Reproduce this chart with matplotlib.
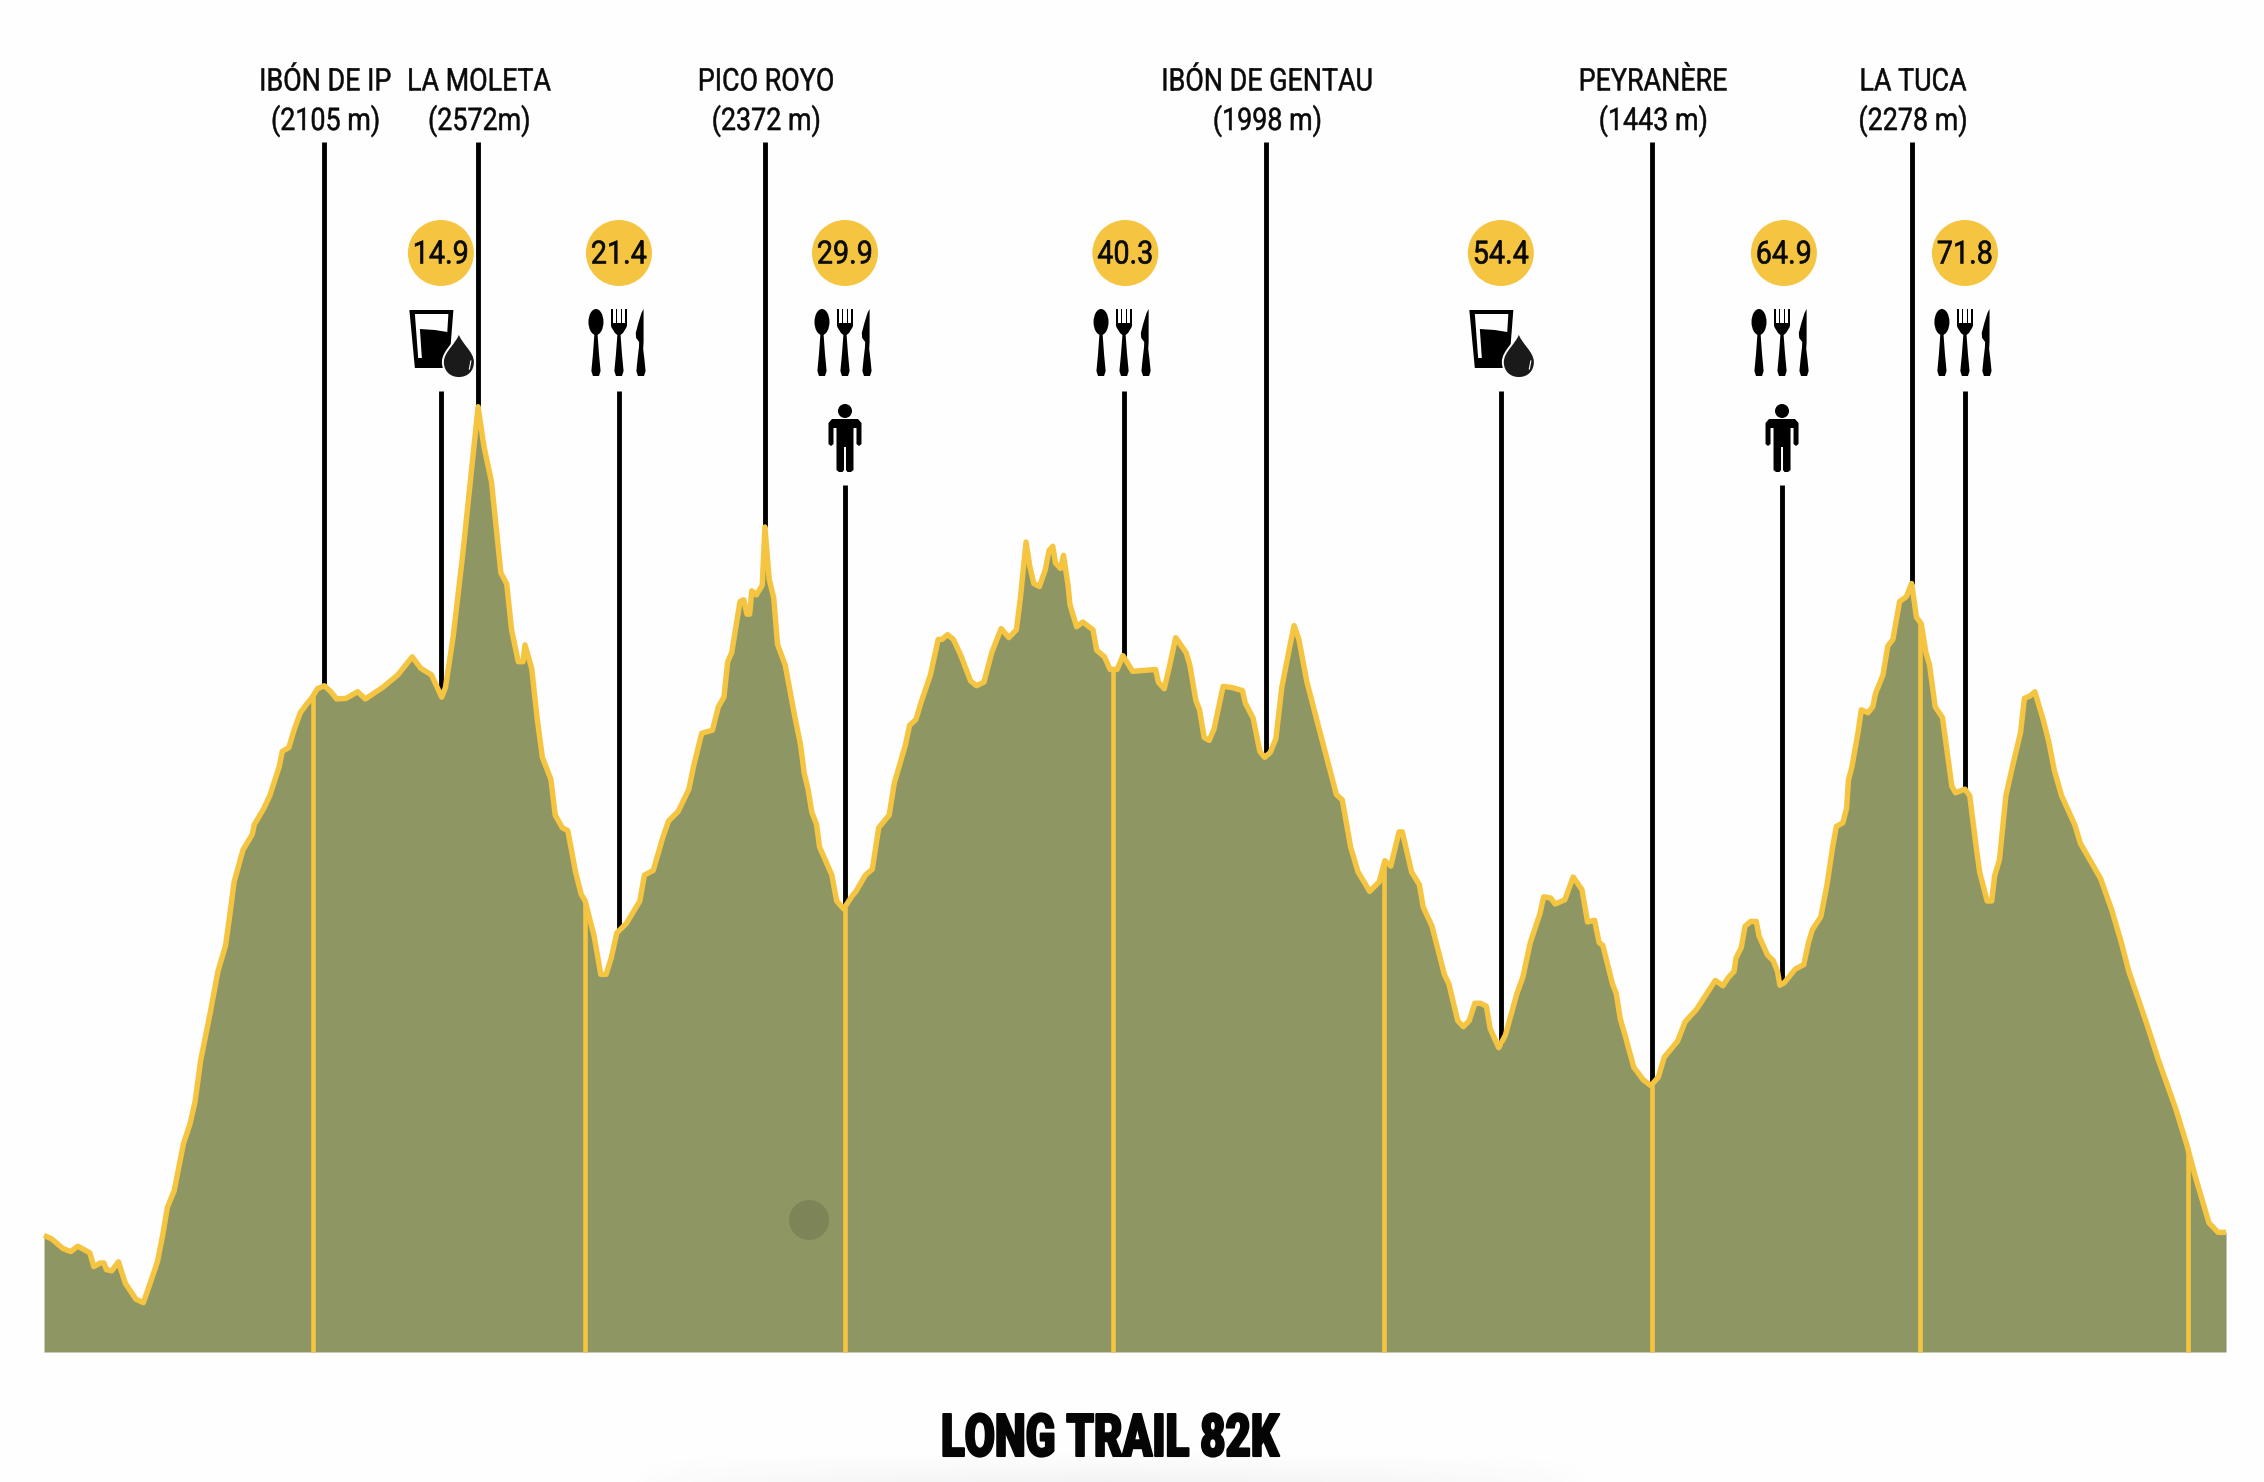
import numpy as np
import matplotlib
matplotlib.use("Agg")
import matplotlib.pyplot as plt
from matplotlib.patches import Circle, Ellipse, Polygon, PathPatch
from matplotlib.path import Path
from matplotlib.patheffects import AbstractPathEffect
from matplotlib.transforms import Affine2D, blended_transform_factory

W, H = 2264, 1482

distance_km = [
    0.00, 0.29, 0.50, 0.71, 1.00, 1.26, 1.71, 1.86, 2.10, 2.24, 2.33, 2.53, 2.78, 3.04, 3.43, 3.71,
    4.00, 4.24, 4.43, 4.61, 4.86, 5.21, 5.45, 5.64, 5.85, 6.21, 6.50, 6.78, 6.93, 7.10, 7.43, 7.78,
    7.85, 8.21, 8.43, 8.78, 8.90, 9.14, 9.35, 9.57, 9.78, 9.99, 10.21, 10.47, 10.71, 10.93, 11.28, 11.71,
    12.00, 12.64, 13.21, 13.75, 14.07, 14.47, 14.85, 14.99, 15.28, 15.64, 15.90, 16.21, 16.42, 16.71, 17.06, 17.28,
    17.46, 17.71, 17.89, 17.96, 18.21, 18.42, 18.61, 18.93, 19.09, 19.35, 19.56, 19.85, 20.06, 20.21, 20.54, 20.79,
    20.99, 21.18, 21.39, 21.75, 22.25, 22.42, 22.75, 23.11, 23.32, 23.68, 24.08, 24.25, 24.56, 24.96, 25.18, 25.39,
    25.53, 25.68, 25.99, 26.13, 26.25, 26.35, 26.43, 26.60, 26.82, 26.92, 27.08, 27.25, 27.39, 27.68, 28.03, 28.25,
    28.39, 28.53, 28.67, 28.85, 28.96, 29.42, 29.60, 29.86, 30.17, 30.32, 30.67, 30.93, 31.17, 31.56, 31.75, 32.17,
    32.32, 32.56, 32.74, 33.10, 33.39, 33.53, 33.74, 33.96, 34.24, 34.60, 34.82, 35.10, 35.39, 35.74, 36.03, 36.31,
    36.46, 36.67, 36.81, 36.96, 37.17, 37.39, 37.53, 37.67, 37.77, 37.96, 38.07, 38.24, 38.31, 38.56, 38.79, 39.17,
    39.31, 39.60, 39.81, 40.07, 40.29, 40.65, 41.51, 41.61, 41.83, 42.01, 42.26, 42.65, 42.79, 43.01, 43.15, 43.32,
    43.51, 43.69, 44.03, 44.36, 44.75, 44.86, 45.15, 45.40, 45.58, 45.79, 46.00, 46.22, 46.50, 46.68, 46.86, 47.15,
    47.58, 48.08, 48.26, 48.48, 48.79, 49.07, 49.29, 49.50, 49.86, 50.07, 50.29, 50.60, 50.72, 51.07, 51.36, 51.50,
    51.83, 52.29, 52.46, 52.79, 53.00, 53.22, 53.43, 53.64, 53.86, 54.00, 54.32, 54.57, 55.00, 55.22, 55.50, 55.86,
    56.00, 56.26, 56.43, 56.79, 57.10, 57.43, 57.64, 57.90, 58.07, 58.21, 58.57, 58.71, 58.86, 59.07, 59.36, 59.71,
    60.00, 60.28, 60.50, 61.00, 61.28, 61.71, 62.41, 62.69, 62.90, 63.11, 63.18, 63.38, 63.52, 63.73, 63.94, 64.04,
    64.36, 64.57, 64.73, 64.82, 64.98, 65.40, 65.71, 65.89, 66.03, 66.35, 66.58, 66.79, 66.93, 67.17, 67.31, 67.38,
    67.51, 67.74, 67.86, 68.11, 68.29, 68.39, 68.67, 68.85, 69.04, 69.29, 69.54, 69.74, 69.92, 70.10, 70.27, 70.41,
    70.62, 70.89, 71.03, 71.24, 71.38, 71.73, 71.91, 72.15, 72.28, 72.56, 72.73, 72.84, 73.02, 73.26, 73.47, 73.81,
    73.95, 74.16, 74.34, 74.65, 74.86, 75.07, 75.34, 75.83, 76.04, 76.80, 77.22, 77.57, 77.85, 78.54, 78.96, 79.59,
    80.00, 80.35, 80.84, 81.18, 81.48,
]
elevation_m = [
    1194, 1188, 1180, 1172, 1167, 1176, 1165, 1142, 1148, 1148, 1137, 1135, 1150, 1114, 1088, 1082,
    1119, 1151, 1194, 1241, 1268, 1347, 1379, 1416, 1485, 1565, 1634, 1676, 1724, 1782, 1835, 1861,
    1877, 1904, 1925, 1973, 1999, 2005, 2036, 2063, 2076, 2087, 2103, 2108, 2098, 2086, 2087, 2098,
    2086, 2105, 2126, 2156, 2137, 2126, 2089, 2105, 2190, 2328, 2439, 2572, 2508, 2447, 2296, 2277,
    2201, 2148, 2148, 2176, 2137, 2052, 1989, 1952, 1893, 1872, 1867, 1798, 1761, 1750, 1692, 1628,
    1628, 1655, 1697, 1713, 1750, 1793, 1801, 1856, 1883, 1899, 1936, 1973, 2029, 2034, 2073, 2089,
    2148, 2163, 2248, 2251, 2227, 2227, 2266, 2259, 2275, 2372, 2285, 2254, 2177, 2142, 2058, 2010,
    1962, 1936, 1898, 1877, 1840, 1793, 1750, 1737, 1758, 1766, 1793, 1803, 1872, 1893, 1946, 2010,
    2042, 2052, 2079, 2126, 2185, 2185, 2193, 2185, 2158, 2116, 2108, 2114, 2163, 2203, 2188, 2201,
    2254, 2347, 2307, 2278, 2273, 2301, 2333, 2340, 2312, 2303, 2325, 2275, 2243, 2206, 2214, 2201,
    2167, 2156, 2135, 2135, 2158, 2132, 2135, 2114, 2103, 2137, 2188, 2163, 2142, 2084, 2068, 2022,
    2017, 2036, 2107, 2105, 2100, 2079, 2054, 1999, 1989, 1997, 2020, 2105, 2169, 2208, 2185, 2116,
    2042, 1957, 1927, 1918, 1840, 1798, 1782, 1766, 1782, 1817, 1808, 1865, 1865, 1798, 1777, 1740,
    1708, 1628, 1612, 1551, 1541, 1551, 1580, 1580, 1575, 1538, 1506, 1527, 1596, 1623, 1681, 1729,
    1757, 1755, 1745, 1752, 1790, 1769, 1715, 1718, 1681, 1676, 1612, 1596, 1554, 1522, 1474, 1453,
    1443, 1457, 1490, 1517, 1549, 1570, 1618, 1609, 1623, 1633, 1655, 1673, 1708, 1716, 1716, 1692,
    1660, 1651, 1633, 1610, 1614, 1637, 1644, 1681, 1702, 1724, 1777, 1840, 1874, 1880, 1904, 1951,
    1973, 2031, 2068, 2063, 2073, 2095, 2126, 2174, 2185, 2248, 2256, 2278, 2222, 2211, 2164, 2142,
    2073, 2055, 2010, 1941, 1930, 1936, 1925, 1840, 1798, 1750, 1750, 1792, 1819, 1925, 1967, 2031,
    2087, 2091, 2098, 2052, 2015, 1967, 1925, 1877, 1846, 1787, 1734, 1681, 1633, 1543, 1485, 1406,
    1347, 1289, 1215, 1199, 1199,
]

peak_names = ["IBÓN DE IP", "LA MOLETA", "PICO ROYO", "IBÓN DE GENTAU", "PEYRANÈRE", "LA TUCA"]
peak_heights = ["(2105 m)", "(2572m)", "(2372 m)", "(1998 m)", "(1443 m)", "(2278 m)"]
peak_km = [10.46, 16.20, 26.92, 45.63, 60.04, 69.74]

station_labels = ["14.9", "21.4", "29.9", "40.3", "54.4", "64.9", "71.8"]
station_km = [14.82, 21.47, 29.91, 40.33, 54.40, 64.90, 71.73]
badge_km = [14.82, 21.47, 29.91, 40.38, 54.40, 64.97, 71.73]
station_icons = ["water", "food", "food+bag", "food", "water", "food+bag", "food"]

marker_km = [10.05, 20.20, 29.90, 39.90, 50.03, 60.03, 70.05, 80.05]

title = "LONG TRAIL 82K"

GREEN = "#8e9763"
YELLOW = "#f5c542"


class HScale(AbstractPathEffect):
    """Squeeze text horizontally about cx (display px), optional heavier stroke."""
    def __init__(self, cx, sx, stroke=0.0):
        super().__init__()
        self.cx, self.sx, self.stroke = cx, sx, stroke

    def draw_path(self, renderer, gc, tpath, affine, rgbFace=None):
        aff = affine + Affine2D().translate(-self.cx, 0).scale(self.sx, 1).translate(self.cx, 0)
        gc0 = renderer.new_gc()
        gc0.copy_properties(gc)
        gc0.set_linewidth(self.stroke)
        gc0.set_foreground(rgbFace)
        renderer.draw_path(gc0, tpath, aff, rgbFace)
        gc0.restore()


fig = plt.figure(figsize=(W / 100, H / 100), dpi=100, facecolor="#fefefe")
ax = fig.add_axes([0, 0, 1, 1])
PX_KM = 26.78
M_PX = 1.663
XLIM = (-44 / PX_KM, (W - 44) / PX_KM)
YLIM = (1000 - (H - 1352) * M_PX, 1000 + 1352 * M_PX)
ax.set_xlim(XLIM)
ax.set_ylim(YLIM)
ax.axis("off")

T = Affine2D().scale(1, -1).translate(0, H)         # y-down pixel coordinates
XKM = blended_transform_factory(ax.transData, T)    # x in km, y in pixels


def kpx(km):
    return ax.transData.transform((km, 0))[0]


d = np.array(distance_km)
e = np.array(elevation_m)

# faint shadow at the bottom edge
yy, xx = np.mgrid[0:60, 0:W]
alpha = np.clip((yy - 25) / 35.0, 0, 1) ** 1.5 * np.clip(1 - np.abs(xx - 1110) / 480.0, 0, 1) ** 0.6 * 0.07
rgba = np.zeros((60, W, 4))
rgba[..., 0] = 0.35
rgba[..., 1] = 0.3
rgba[..., 2] = 0.4
rgba[..., 3] = alpha
ax.imshow(rgba, extent=(0, W, H, H - 60), transform=T, aspect="auto", zorder=0, interpolation="bilinear")
ax.set_xlim(XLIM)
ax.set_ylim(YLIM)

# profile
ax.fill_between(d, 1000, e, color=GREEN, lw=0, zorder=2)
ax.plot(d, e, color=YELLOW, lw=3.9, solid_joinstyle="round", solid_capstyle="butt", zorder=5)
ax.vlines(marker_km, 1000, np.interp(marker_km, d, e), color=YELLOW, lw=3.3, zorder=4)

# blob on the fill
ax.add_patch(Circle((809, 1220), 20, transform=T, fc="#7d8558", ec="none", zorder=3))


def label(km_x, y, s, size, sx=0.84, stroke=0.0, weight="normal", ha="center"):
    t = ax.text(km_x, y, s, transform=XKM, ha=ha, va="center", fontsize=size, family="Roboto",
                weight=weight, color="#0a0a0a", zorder=8)
    t.set_path_effects([HScale(kpx(km_x), sx, stroke)])
    return t


# peaks
for name, h, km in zip(peak_names, peak_heights, peak_km):
    top = 1000 + (1352 - 142) * M_PX
    ax.plot([km, km], [top, np.interp(km, d, e)], color="black", lw=3.5, solid_capstyle="butt", zorder=3)
    label(km + 0.05, 82, name, 22.5, sx=0.86, stroke=0.35)
    label(km + 0.05, 121, h, 22.5, sx=0.86, stroke=0.35)


def add_poly(pts, ox, oy, fc="black", z=7):
    pts = np.array(pts, float) + (ox, oy)
    ax.add_patch(Polygon(pts, closed=True, transform=T, fc=fc, ec="none", zorder=z))


def cutlery(cx, y0=309):
    # spoon
    sx = cx - 23
    ax.add_patch(Ellipse((sx, y0 + 13), 15, 26, transform=T, fc="black", ec="none", zorder=7))
    add_poly([(-1.5, 24), (1.5, 24), (3, 45), (4.6, 62), (3, 67), (-3, 67), (-4.6, 62), (-3, 45)], sx, y0)
    # fork
    for dx in (-6.9, -2.4, 2.4, 6.9):
        add_poly([(dx - 0.8, 0), (dx + 0.8, 0), (dx + 0.8, 17), (dx - 0.8, 17)], cx, y0)
    add_poly([(-7.7, 14), (7.7, 14), (7.7, 18), (4, 24), (1.6, 26), (3, 45), (4.6, 62), (3, 67), (-3, 67),
              (-4.6, 62), (-3, 45), (-1.6, 26), (-4, 24), (-7.7, 18)], cx, y0)
    # knife
    kx = cx + 22
    add_poly([(2.6, 0), (2.6, 33), (2.2, 40), (3.4, 50), (4.6, 62), (3, 67), (-3, 67), (-4.6, 62), (-3.4, 50),
              (-2, 38), (-1.8, 33), (-4.8, 29), (-5.2, 24), (-2.6, 14), (0.5, 4)], kx, y0)


def person(cx):
    ax.add_patch(Circle((cx, 411), 7, transform=T, fc="black", ec="none", zorder=7))
    add_poly([(-13, 419), (13, 419), (16.5, 423), (16.5, 444), (14, 446), (11.5, 444), (11.5, 428), (8.5, 428),
              (8.5, 470), (6, 472), (2.5, 472), (1, 470), (1, 447), (-1, 447), (-1, 470), (-2.5, 472), (-6, 472),
              (-8.5, 470), (-8.5, 428), (-11.5, 428), (-11.5, 444), (-14, 446), (-16.5, 444), (-16.5, 423)], cx, 0)


def water(cx):
    add_poly([(-31.5, 310), (12.5, 310), (8, 368), (-26, 368)], cx, 0)
    add_poly([(-26, 314), (7.5, 314), (6.4, 332), (-6, 330), (-21, 329), (-19, 358), (-22.7, 358)], cx, 0, fc="#fefefe")
    verts = [(18, 332), (21, 343), (34, 351), (34, 362), (34, 372), (27, 378), (18, 378),
             (9, 378), (2, 372), (2, 362), (2, 351), (15, 343), (18, 332), (18, 332)]
    codes = [Path.MOVETO, Path.CURVE4, Path.CURVE4, Path.CURVE4, Path.CURVE4, Path.CURVE4, Path.CURVE4,
             Path.CURVE4, Path.CURVE4, Path.CURVE4, Path.CURVE4, Path.CURVE4, Path.CURVE4, Path.CLOSEPOLY]
    path = Path(np.array(verts) + (cx, 0), codes)
    ax.add_patch(PathPatch(path, transform=T, fc="#1a1a1a", ec="#fefefe", lw=1.4, zorder=7.5))
    ax.plot([cx + 30, cx + 28.5], [361, 369], color="white", lw=0.8, transform=T, zorder=7.6)


# stations
for lab, km, bk, icon in zip(station_labels, station_km, badge_km, station_icons):
    cx = kpx(km)
    ax.add_patch(Circle((kpx(bk), 253), 33, transform=T, fc=YELLOW, ec="none", zorder=6))
    label(bk, 255, lab, 23, sx=0.9, stroke=0.45)
    start = 485 if "bag" in icon else 391
    top = 1000 + (1352 - start) * M_PX
    ax.plot([km, km], [top, np.interp(km, d, e)], color="black", lw=3.5, solid_capstyle="butt", zorder=3)
    if "food" in icon:
        cutlery(cx)
    if "bag" in icon:
        person(cx)
    if icon == "water":
        water(cx)

# title: fit to the reference's width
title_km = (1110 - 44) / PX_KM
tt = ax.text(title_km, 1440, title, transform=XKM, ha="center", va="center", fontsize=42.5,
             family="Roboto", weight="black", color="#050505", zorder=8)
fig.canvas.draw()
w = tt.get_window_extent(fig.canvas.get_renderer()).width
tt.set_path_effects([HScale(kpx(title_km), 338.0 / w, 1.5)])

fig.savefig("out.png", dpi=100, facecolor=fig.get_facecolor())
